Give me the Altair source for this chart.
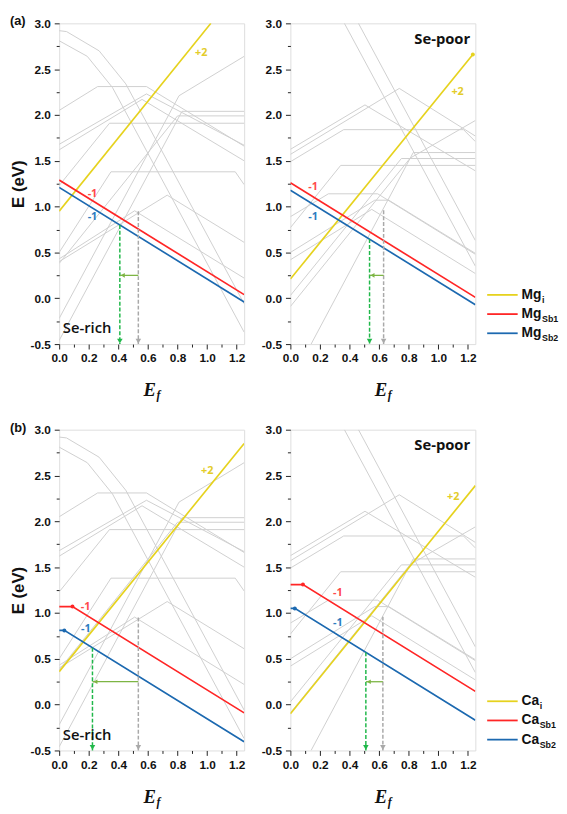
import altair as alt
import pandas as pd

# ---------------- axes ----------------
X_DOMAIN = [0.0, 1.25]
Y_DOMAIN = [-0.5, 3.0]
X_TICKS = [0.0, 0.1, 0.2, 0.3, 0.4, 0.5, 0.6, 0.7, 0.8, 0.9, 1.0, 1.1, 1.2]
Y_TICKS = [-0.5, -0.25, 0.0, 0.25, 0.5, 0.75, 1.0, 1.25, 1.5, 1.75, 2.0, 2.25, 2.5, 2.75, 3.0]

# ---------------- gray background defect lines (x = Ef, E) ----------------
GRAY_SE_RICH = [
    [[0.0, 2.92], [0.05, 2.91], [0.27, 2.70], [0.45, 2.34], [1.25, -0.06]],
    [[0.0, 2.81], [0.19, 2.64], [0.36, 2.30], [1.25, -0.37]],
    [[0.0, 2.05], [0.26, 2.31], [0.59, 2.31], [1.25, 1.66]],
    [[0.0, 1.68], [0.59, 2.23], [1.25, 1.67]],
    [[0.0, 1.62], [0.56, 2.17], [1.25, 1.50]],
    [[0.0, 1.23], [0.34, 1.91], [1.25, 1.91]],
    [[0.0, -0.22], [0.81, 2.21], [1.25, 2.64]],
    [[0.0, -0.46], [0.83, 2.04], [1.25, 2.04]],
    [[0.0, 0.38], [0.80, 1.99], [1.25, 1.99]],
    [[0.0, 0.50], [0.35, 1.38], [1.19, 1.38], [1.25, 1.24]],
    [[0.0, 0.43], [0.51, 0.955], [1.25, 0.22]],
    [[0.0, 0.40], [0.73, 1.125], [1.25, 0.61]],
]
GRAY_SE_POOR = [
    [[0.365, 3.0], [1.25, 0.35]],
    [[0.46, 3.0], [1.25, 0.63]],
    [[0.0, 1.625], [0.504, 2.11], [1.25, 1.39]],
    [[0.0, 1.57], [0.736, 2.29], [1.25, 1.77]],
    [[0.0, 1.49], [0.36, 1.84], [1.17, 1.84], [1.25, 1.71]],
    [[0.0, -0.09], [0.81, 1.53], [1.25, 1.94]],
    [[0.14, -0.5], [0.83, 1.59], [1.25, 1.59]],
    [[0.0, 0.03], [0.75, 1.525], [1.25, 1.525]],
    [[0.0, 0.77], [0.34, 1.45], [1.25, 1.45]],
    [[0.0, 0.89], [0.257, 1.14], [0.59, 1.14], [1.25, 0.48]],
    [[0.0, 0.50], [0.57, 1.07], [0.665, 1.07], [1.25, 0.49]],
    [[0.0, 0.42], [0.55, 0.97], [1.25, 0.27]],
]

# ---------------- (a) Mg ----------------
A_RICH_I = [[0.0, 0.95], [1.025, 3.0]]
A_RICH_SB1 = [[0.0, 1.29], [1.25, 0.04]]
A_RICH_SB2 = [[0.0, 1.21], [1.25, -0.04]]
A_RICH_DOTS = []
A_RICH_LEVEL = [0.535, 0.95, 0.41, 0.80]          # gray x, gray top, green x, green top
A_RICH_Q = [["+2", 0.96, 2.68, "i"], ["-1", 0.225, 1.14, "sb1"], ["-1", 0.225, 0.89, "sb2"]]

A_POOR_I = [[0.0, 0.21], [1.233, 2.66]]
A_POOR_SB1 = [[0.0, 1.26], [1.25, 0.01]]
A_POOR_SB2 = [[0.0, 1.18], [1.25, -0.07]]
A_POOR_DOTS = [[1.233, 2.66, "i"]]
A_POOR_LEVEL = [0.63, 0.96, 0.535, 0.645]
A_POOR_Q = [["+2", 1.13, 2.25, "i"], ["-1", 0.154, 1.21, "sb1"], ["-1", 0.154, 0.89, "sb2"]]

# ---------------- (b) Ca ----------------
B_RICH_I = [[0.0, 0.36], [1.25, 2.85]]
B_RICH_SB1 = [[0.0, 1.07], [0.09, 1.07], [1.25, -0.09]]
B_RICH_SB2 = [[0.0, 0.81], [0.035, 0.81], [1.25, -0.405]]
B_RICH_DOTS = [[0.09, 1.07, "sb1"], [0.035, 0.81, "sb2"]]
B_RICH_LEVEL = [0.535, 0.95, 0.225, 0.62]
B_RICH_Q = [["+2", 1.0, 2.55, "i"], ["-1", 0.178, 1.07, "sb1"], ["-1", 0.18, 0.82, "sb2"]]

B_POOR_I = [[0.0, -0.10], [1.25, 2.39]]
B_POOR_SB1 = [[0.0, 1.31], [0.085, 1.31], [1.25, 0.145]]
B_POOR_SB2 = [[0.0, 1.05], [0.03, 1.05], [1.25, -0.17]]
B_POOR_DOTS = [[0.085, 1.31, "sb1"], [0.03, 1.05, "sb2"]]
B_POOR_LEVEL = [0.625, 0.96, 0.51, 0.57]
B_POOR_Q = [["+2", 1.10, 2.26, "i"], ["-1", 0.32, 1.22, "sb1"], ["-1", 0.32, 0.89, "sb2"]]

ARROW_E = 0.25
LEGEND_A = [["Mg", "i"], ["Mg", "Sb1"], ["Mg", "Sb2"]]
LEGEND_B = [["Ca", "i"], ["Ca", "Sb1"], ["Ca", "Sb2"]]

# ---------------- style ----------------
SERIES = ["i", "sb1", "sb2"]
LINE_COLORS = ["#E6D21E", "#FF2626", "#1C69B0"]
LABEL_COLORS = ["#E3CC2A", "#FF4A4A", "#2C7CC0"]
GRAY = "#CFCFCF"
GREEN = "#20B84A"
GRAY_DASH = "#A9A9A9"
ARROW_GREEN = "#7DB544"
W, H = 188, 326
AXIS_FONT = "Liberation Sans"
ARIAL_BOLD_WIDTH = {"M": 0.833, "g": 0.611, "C": 0.722, "a": 0.556}

X_LABEL_EXPR = "round(datum.value*10) % 2 == 0 ? format(datum.value, '.1f') : ''"
Y_LABEL_EXPR = ("abs(round(datum.value*4)) % 2 == 0 ? "
                "(datum.value < 0 ? '-' : '') + format(abs(datum.value), '.1f') : ''")


def xaxis():
    return alt.Axis(values=X_TICKS, title=None, labelExpr=X_LABEL_EXPR, labelOverlap=False,
                    labelFlush=False,
                    tickSize={"condition": {"test": "round(datum.value*10) % 2 == 0", "value": 5}, "value": 3},
                    domain=False, grid=False, tickColor="#222", labelFont=AXIS_FONT,
                    labelFontWeight="bold", labelFontSize=12, labelColor="#111", labelPadding=4)


def yaxis(title):
    kw = dict(values=Y_TICKS, labelExpr=Y_LABEL_EXPR, labelOverlap=False, labelFlush=False,
              tickSize={"condition": {"test": "abs(round(datum.value*4)) % 2 == 0", "value": 5}, "value": 3},
              domain=False, grid=False, tickColor="#222", labelFont=AXIS_FONT,
              labelFontWeight="bold", labelFontSize=12, labelColor="#111", labelPadding=4)
    if title:
        kw.update(title=title, titleFont=AXIS_FONT, titleFontSize=17, titleFontWeight="bold",
                  titleColor="#111", titlePadding=3)
    else:
        kw.update(title=None)
    return alt.Axis(**kw)


def X(field="x"):
    return alt.X(f"{field}:Q", scale=alt.Scale(domain=X_DOMAIN, nice=False, zero=False), axis=xaxis())


def Y(field, title):
    return alt.Y(f"{field}:Q", scale=alt.Scale(domain=Y_DOMAIN, nice=False, zero=False), axis=yaxis(title))


def panel(gray, i_line, sb1, sb2, dots, level, qlabels, cond, tag, ytitle):
    rows = []
    for k, line in enumerate(gray):
        for j, (x, e) in enumerate(line):
            rows.append({"x": x, "E": e, "id": k, "ord": j})
    gdf = pd.DataFrame(rows)

    layers = [alt.Chart(gdf).mark_line(color=GRAY, strokeWidth=1, clip=True).encode(
        x=X(), y=Y("E", ytitle), detail="id:N", order="ord:Q")]

    for line, col in zip([i_line, sb1, sb2], LINE_COLORS):
        ldf = pd.DataFrame(line, columns=["x", "E"])
        ldf["ord"] = range(len(ldf))
        layers.append(alt.Chart(ldf).mark_line(strokeWidth=1.7, clip=True, color=col).encode(
            x=X(), y=Y("E", ytitle), order="ord:Q"))

    for x, e, s in dots:
        ddf = pd.DataFrame({"x": [x], "E": [e]})
        layers.append(alt.Chart(ddf).mark_point(filled=True, size=16, opacity=1,
                                                color=LINE_COLORS[SERIES.index(s)]).encode(
            x=X(), y=Y("E", ytitle)))

    gx, gtop, nx, ntop = level
    for vx, vtop, col in [(gx, gtop, GRAY_DASH), (nx, ntop, GREEN)]:
        vdf = pd.DataFrame({"x": [vx], "E": [vtop], "E2": [Y_DOMAIN[0]]})
        layers.append(alt.Chart(vdf).mark_rule(strokeDash=[4, 2], strokeWidth=1.5, color=col).encode(
            x=X(), y=Y("E", ytitle), y2="E2:Q"))
        layers.append(alt.Chart(vdf).mark_point(shape="triangle-down", filled=True, size=32, opacity=1,
                                                color=col, yOffset=-3).encode(
            x=X(), y=Y("E2", ytitle)))

    hdf = pd.DataFrame({"x": [gx], "x2": [nx], "E": [ARROW_E]})
    layers.append(alt.Chart(hdf).mark_rule(color=ARROW_GREEN, strokeWidth=1.3).encode(
        x=X(), x2="x2:Q", y=Y("E", ytitle)))
    layers.append(alt.Chart(hdf).mark_point(shape="triangle-left", filled=True, size=22, opacity=1,
                                            color=ARROW_GREEN, xOffset=3).encode(
        x=X("x2"), y=Y("E", ytitle)))

    for t, x, e, s in qlabels:
        qdf = pd.DataFrame({"x": [x], "E": [e], "t": [t]})
        layers.append(alt.Chart(qdf).mark_text(font="Open Sans", fontWeight="bold", fontSize=11,
                                               color=LABEL_COLORS[SERIES.index(s)]).encode(
            x=X(), y=Y("E", ytitle), text="t:N"))

    if cond == "Se-rich":
        cdf2 = pd.DataFrame({"x": [0.025], "E": [-0.33], "t": [cond]})
        layers.append(alt.Chart(cdf2).mark_text(font="Open Sans", fontWeight=600, fontSize=15,
                                                align="left", color="#111").encode(
            x=X(), y=Y("E", ytitle), text="t:N"))
    else:
        cdf2 = pd.DataFrame({"x": [1.215], "E": [2.83], "t": [cond]})
        layers.append(alt.Chart(cdf2).mark_text(font="Open Sans", fontWeight="bold", fontSize=15,
                                                align="right", color="#111").encode(
            x=X(), y=Y("E", ytitle), text="t:N"))

    one = pd.DataFrame({"k": [0]})
    layers.append(alt.Chart(one).mark_text(text="E", font="Liberation Serif", fontStyle="italic",
                                           fontWeight="bold", fontSize=19, color="#111").encode(
        x=alt.value(W / 2 - 2), y=alt.value(H + 47)))
    layers.append(alt.Chart(one).mark_text(text="f", font="Liberation Serif", fontStyle="italic",
                                           fontWeight="bold", fontSize=12, color="#111").encode(
        x=alt.value(W / 2 + 7), y=alt.value(H + 52)))
    if tag:
        layers.append(alt.Chart(one).mark_text(text=tag, font=AXIS_FONT, fontWeight="bold",
                                               fontSize=13, align="left", color="#111").encode(
            x=alt.value(-50), y=alt.value(-2)))

    return alt.layer(*layers).properties(width=W, height=H)


def legend_panel(items):
    rows = []
    for k, (main, sub) in enumerate(items):
        main_w = sum(ARIAL_BOLD_WIDTH.get(ch, 0.6) for ch in main) * 14
        rows.append({"py": 276 + 19.5 * k, "main": main, "sub": sub,
                     "c": LINE_COLORS[k], "sx": 35 + main_w + 0.5})
    ldf = pd.DataFrame(rows)
    yv = alt.Y("py:Q", scale=alt.Scale(domain=[0, H], range=[0, H]), axis=None)
    xs = alt.X("sx:Q", scale=alt.Scale(domain=[0, 70], range=[0, 70]), axis=None)
    lines = alt.Chart(ldf).mark_rule(strokeWidth=1.8).encode(
        x=alt.value(0), x2=alt.value(31), y=yv, color=alt.Color("c:N", scale=None))
    main = alt.Chart(ldf).mark_text(align="left", font=AXIS_FONT, fontWeight="bold", fontSize=14,
                                    color="#111").encode(x=alt.value(35), y=yv, text="main:N")
    sub = alt.Chart(ldf).mark_text(align="left", font=AXIS_FONT, fontWeight="bold", fontSize=9,
                                   color="#111", dy=5).encode(x=xs, y=yv, text="sub:N")
    return alt.layer(lines, main, sub).properties(
        width=70, height=H, view=alt.ViewBackground(stroke="transparent"))


a_rich = panel(GRAY_SE_RICH, A_RICH_I, A_RICH_SB1, A_RICH_SB2, A_RICH_DOTS, A_RICH_LEVEL, A_RICH_Q,
               "Se-rich", "(a)", "E (eV)")
a_poor = panel(GRAY_SE_POOR, A_POOR_I, A_POOR_SB1, A_POOR_SB2, A_POOR_DOTS, A_POOR_LEVEL, A_POOR_Q,
               "Se-poor", None, None)
b_rich = panel(GRAY_SE_RICH, B_RICH_I, B_RICH_SB1, B_RICH_SB2, B_RICH_DOTS, B_RICH_LEVEL, B_RICH_Q,
               "Se-rich", "(b)", "E (eV)")
b_poor = panel(GRAY_SE_POOR, B_POOR_I, B_POOR_SB1, B_POOR_SB2, B_POOR_DOTS, B_POOR_LEVEL, B_POOR_Q,
               "Se-poor", None, None)

row_a = alt.hconcat(a_rich, alt.hconcat(a_poor, legend_panel(LEGEND_A), spacing=8), spacing=14)
row_b = alt.hconcat(b_rich, alt.hconcat(b_poor, legend_panel(LEGEND_B), spacing=8), spacing=14)

chart = alt.vconcat(row_a, row_b, spacing=19).configure_view(
    stroke="#222", strokeWidth=1.5).configure(background="white", padding=0)

chart.save("out.html", embed_options={"renderer": "svg", "actions": False})
